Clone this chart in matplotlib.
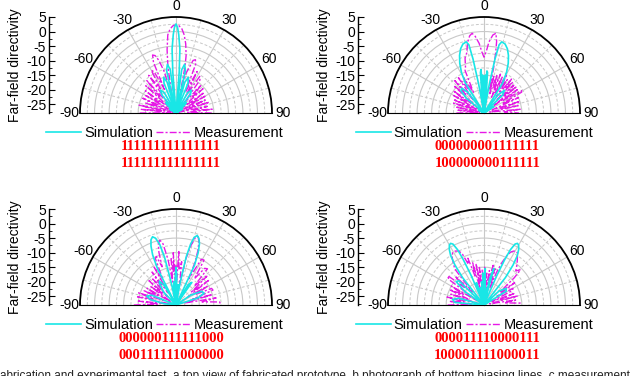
import numpy as np
import matplotlib.pyplot as plt
from matplotlib.ticker import MultipleLocator

plt.rcParams['font.family'] = ['Liberation Sans', 'DejaVu Sans']
plt.rcParams['axes.unicode_minus'] = False

W, H = 635, 376
RMIN, RMAX = -28, 5
CYAN = '#19e6e6'
MAGENTA = '#e619e6'

# ---- data (angle in degrees, directivity in dB) ----
sim1_deg = [-90, -65, -58, -52, -48, -44, -41, -38, -34, -30, -25, -22, -19, -16, -14.5, -12.5, -10, -7.5, -5.5, -4.5,
            -3.5, -2, -1, 0, 1, 2, 3.5, 4.5, 5.5, 7.5, 10, 12.5, 14.5, 16, 19, 22, 25, 30, 34, 38,
            41, 44, 48, 52, 58, 65, 90]
sim1_db = [-28, -28, -25.5, -28, -24, -23, -28, -20, -18.5, -20, -28, -17, -15, -17, -28, -13, -11, -13, -28, -14,
           -6, -1, 1.5, 2.6, 1.5, -1, -6, -14, -28, -13, -11, -13, -28, -17, -15, -17, -28, -20, -18.5, -20,
           -28, -23, -24, -28, -25.5, -28, -28]
meas1_deg = [-90, -87, -84, -81, -78, -75, -72, -69, -66, -63, -60, -57, -54, -51, -48, -45, -42, -39, -36, -33, -30,
             -28, -26, -24, -22, -20, -18, -16, -14, -12, -10, -8, -6, -4, -2, 0, 2, 4, 6, 8, 10,
             11, 12, 14, 16, 18, 20, 22, 24,
             27, 30, 33, 36, 39, 42, 45, 48, 51, 54, 57, 60, 63, 66, 69, 72, 75, 78, 81, 84, 87, 90]
meas1_db = [-15.5, -26, -16, -23, -15, -27, -17, -22, -15.5, -25, -16, -21, -15, -26, -14, -20, -13, -24, -12, -18, -11,
            -12, -19, -9, -6.5, -7, -9, -13, -22, -20, -12, -6, -1, 1, 2, 2.3, 2, 1, -1, -4, -8,
            -12, -20, -14, -12, -9, -8.5, -10, -20,
            -12, -21, -13, -14, -24, -15, -20, -15.5, -26, -16, -22, -16.5, -25, -17, -23, -16, -27, -17, -22, -15.5, -24, -15.5]

sim2_deg = [-90, -70, -62, -56, -50, -46, -42, -38, -34, -32, -29, -26, -23, -20, -17, -14, -12.5, -11.5, -10.5, -9.5,
            -7, -5, -4, -3, -2, -1, 0, 1, 2, 3, 4, 5, 7, 9.5, 10.5, 11.5, 12.5, 14, 17, 20,
            23, 26, 29, 32, 35, 38, 42, 46, 50, 56, 62, 90]
sim2_db = [-28, -28, -26, -28, -20, -17, -16.5, -19, -28, -16, -12, -9, -6.5, -4.5, -3.2, -2.8, -4, -9, -18, -28,
           -22, -14, -13, -20, -15, -26, -16, -26, -15, -20, -13.5, -14, -22, -28, -18, -9, -4, -2.8, -3.2, -4.5,
           -6.5, -9, -12, -16, -28, -20, -17.5, -19, -28, -24, -28, -28]
meas2_deg = [-90, -87, -84, -81, -78, -75, -72, -69, -66, -63, -60, -57, -54, -51, -48, -45, -42, -39, -36, -33, -30, -27, -24,
             -22, -19, -16, -13, -10.5, -8.5, -6.5, -4, -2, 0, 2, 4, 6.5, 8.5, 10, 11, 12, 13,
             15, 17, 19, 21, 23, 25, 27, 29, 31, 33, 35, 37, 39, 41, 43, 45, 47, 49, 51, 53, 55, 57, 59, 61, 63,
             66, 69, 72, 75, 78, 81, 84, 87, 90]
meas2_db = [-18.5, -26, -19, -24, -18, -27, -17, -23, -16.5, -25, -16, -21, -15, -26, -14, -19, -13, -22, -13, -18, -14, -20, -12,
            -11, -8, -6.5, -3, -1, -0.3, -1.5, -4, -7, -8.8, -7, -3.5, -1, -0.3, -3, -7, -12, -20,
            -15, -21, -14, -19, -13.5, -22, -14, -20, -13, -18, -14, -21, -13, -17, -13.5, -22, -14, -19, -13.5, -24, -14, -20, -13, -13.2, -21,
            -15, -25, -15, -22, -16, -26, -15.5, -21, -16]

sim3_deg = [-90, -84, -78, -73, -68, -62, -50, -44, -38, -35, -31, -29, -27, -25, -23, -21, -19, -17, -15, -13.5,
            -12, -11, -8, -5, -3, -1.5, 0, 1.5, 3, 5, 8, 10.5, 12, 13.5, 15, 17, 19, 21, 23, 25,
            27, 31, 35, 40, 50, 56, 62, 67, 72, 78, 90]
sim3_db = [-28, -24, -19, -17.5, -19, -28, -28, -22, -19, -18, -20, -28, -14, -9, -6, -4, -3.2, -4, -6.5, -11,
           -20, -28, -22, -20, -28, -18, -15, -18, -28, -21, -28, -20, -11, -6.5, -4, -3, -3.8, -5.5, -8.5, -13,
           -28, -20, -18.5, -28, -28, -22, -18, -17.5, -20, -28, -28]
meas3_deg = [-90, -87, -84, -81, -78, -75, -72, -69, -66, -63, -60, -57, -54, -51, -48, -45, -42, -39, -36, -33, -30, -27, -24,
             -22, -20, -18, -16, -14, -12, -10, -8, -6, -4, -3, -1.5, 0, 1.5, 3, 5, 7.5, 10, 12, 14, 16, 18, 20, 22, 24, 26,
             29, 32, 35, 38, 41, 44, 47, 50, 53, 56, 59, 62, 65, 68, 71, 74, 77, 80, 83, 86, 90]
meas3_db = [-13.5, -22, -15, -26, -14.5, -20, -14.5, -24, -16, -21, -16.5, -26, -17, -22, -15.5, -24, -16, -20, -14, -23, -13, -18, -10.5,
            -10, -14, -9, -6, -5, -6.5, -12, -20, -12, -17, -10, -22, -14, -20, -9.6, -16, -13, -21, -12, -7, -4, -3.3, -5, -8, -12, -18,
            -10, -9.8, -17, -12, -11.5, -19, -13.5, -21, -14, -23, -15.5, -20, -14.5, -14.3, -22, -15, -25, -14, -19, -13, -12.5]

sim4_deg = [-90, -85, -80, -75, -70, -62, -55, -50, -46, -42, -38, -36, -34, -32, -30, -28.5, -27, -25.5, -24.5, -23.5,
            -22, -19, -16, -12, -9, -6, -4, -2, -1, 1, 2, 3, 5, 8, 12, 15, 18, 22, 23.5, 24.5,
            25.5, 27, 28.5, 30, 32, 34, 36, 38, 41, 47, 53, 58, 64, 90]
sim4_db = [-28, -18, -17, -19, -28, -28, -20, -15.5, -16, -28, -16, -11, -7.5, -5.5, -4.2, -3.9, -4.5, -7, -11, -17,
           -28, -20, -28, -22, -28, -20, -28, -17, -19, -28, -15.5, -28, -22, -28, -19, -15, -28, -28, -17, -11,
           -7, -4.5, -3.9, -4.2, -5.5, -7.5, -11, -16, -28, -21, -18.5, -19, -28, -28]
meas4_deg = [-90, -87, -84, -81, -78, -75, -72, -69, -66, -63, -60, -57, -54, -51, -48, -45, -42, -39,
             -36, -34, -31, -28, -25, -23,
             -21, -19, -17, -15, -13, -11, -9, -7, -5, -3, -1, 1, 3, 5, 7, 9, 11, 13, 15, 17,
             19, 21, 23, 25, 27, 29, 31, 33, 35, 37,
             40, 43, 46, 48, 51, 54, 57, 60, 63, 66, 69, 72, 75, 78, 81, 84, 87, 90]
meas4_db = [-15.5, -24, -16, -21, -15, -26, -16, -22, -15, -20, -15, -25, -13, -12, -19, -14, -22, -12,
            -10, -8.5, -7, -7, -7.5, -9,
            -13, -11, -18, -13, -22, -13.5, -20, -15, -24, -16, -22, -15, -20, -17, -24, -16, -21, -14, -19, -15,
            -22, -16, -12, -9, -7.5, -6.8, -6.5, -6.8, -8, -9,
            -10.5, -12, -10.5, -14, -21, -15, -23, -16.5, -17, -25, -17, -22, -16, -26, -17, -21, -15.5, -16]

codes = [("111111111111111", "111111111111111"),
         ("000000001111111", "100000000111111"),
         ("000000111111000", "000111111000000"),
         ("000011110000111", "100001111000011")]

theta_ticks = [-90, -60, -30, 0, 30, 60, 90]
r_ticks = [-25, -20, -15, -10, -5, 0, 5]


def fig_box(x, y, w, h):
    # pixel box (top-left origin) -> figure fraction
    return [x / W, 1 - (y + h) / H, w / W, h / H]


fig = plt.figure(figsize=(W / 100, H / 100), dpi=100)


def draw_panel(cx, base, axis_x, sim_deg, sim_db, meas_deg, meas_db, code_pair, leg_cx, code_cx, leg_y):
    R = 96
    # square box; the half disc (2R x R) sits in its vertical middle
    ax = fig.add_axes(fig_box(cx - R, base - R / 2 - R, 2 * R, 2 * R), projection='polar')
    ax.set_anchor('C')
    ax.set_theta_zero_location('N')
    ax.set_theta_direction(-1)
    ax.set_thetamin(-90)
    ax.set_thetamax(90)
    ax.set_rlim(RMIN, RMAX)
    ax.set_thetagrids(theta_ticks, labels=[str(t) for t in theta_ticks], fontsize=10)
    ax.set_yticks([-25, -20, -15, -10, -5, 0])
    ax.set_yticklabels([])
    ax.tick_params(axis='y', length=0)
    ax.tick_params(axis='x', direction='in', length=4, width=1, pad=1)
    ax.grid(True, color='#c8c8c8', lw=0.8, ls='-')
    ax.spines['polar'].set_linewidth(1.3)
    ax.spines['start'].set_visible(False)
    ax.spines['end'].set_visible(False)

    # dashed minor grid
    tt = np.radians(np.linspace(-90, 90, 181))
    for r in [-22.5, -17.5, -12.5, -7.5, -2.5, 2.5]:
        ax.plot(tt, np.full_like(tt, r), color='#c8c8c8', lw=0.7, ls=(0, (3, 2)), zorder=1)
    for a in [-75, -45, -15, 15, 45, 75]:
        ax.plot([np.radians(a)] * 2, [RMIN, RMAX], color='#c8c8c8', lw=0.7, ls=(0, (3, 2)), zorder=1)

    lm, = ax.plot(np.radians(meas_deg), meas_db, color=MAGENTA, lw=1.0, ls=(0, (5, 1.5, 1.5, 1.5)), zorder=3)
    ls, = ax.plot(np.radians(sim_deg), sim_db, color=CYAN, lw=1.2, zorder=4)

    # radial scale drawn as a separate vertical axis on the left
    rax = fig.add_axes(fig_box(axis_x, base - R, 1, R))
    rax.set_facecolor('none')
    rax.set_ylim(RMIN, RMAX)
    rax.set_yticks(r_ticks)
    rax.set_yticklabels([str(t) for t in r_ticks], fontsize=10)
    rax.yaxis.set_minor_locator(MultipleLocator(2.5))
    rax.set_xticks([])
    for s in ['top', 'right', 'bottom']:
        rax.spines[s].set_visible(False)
    rax.spines['left'].set_linewidth(1.0)
    rax.tick_params(axis='y', which='major', direction='in', length=4, pad=2)
    rax.tick_params(axis='y', which='minor', direction='in', length=2)
    rax.set_ylabel('Far-field directivity', fontsize=10, labelpad=3)

    fig.legend([ls, lm], ['Simulation', 'Measurement'], loc='center',
               bbox_to_anchor=(leg_cx / W, 1 - leg_y / H), ncol=2, frameon=False,
               fontsize=10.5, handlelength=2.4, handletextpad=0.2, columnspacing=0.2,
               borderpad=0, borderaxespad=0)
    for k, code in enumerate(code_pair):
        fig.text(code_cx / W, 1 - (leg_y + 13 + 17.5 * k) / H, code, ha='center', va='center',
                 color='red', fontweight='bold', family='Liberation Serif', fontsize=10.5)


draw_panel(176, 113, 49, sim1_deg, sim1_db, meas1_deg, meas1_db, codes[0], 165, 170.5, 133)
draw_panel(484, 113, 358, sim2_deg, sim2_db, meas2_deg, meas2_db, codes[1], 474.5, 487.5, 133)
draw_panel(176, 305, 49, sim3_deg, sim3_db, meas3_deg, meas3_db, codes[2], 165, 171.5, 325)
draw_panel(484, 305, 358, sim4_deg, sim4_db, meas4_deg, meas4_db, codes[3], 474.5, 487.5, 325)

fig.text(0, 1 - 370 / H, 'abrication and experimental test. a top view of fabricated prototype. '
         'b photograph of bottom biasing lines. c measurement', ha='left', va='top',
         fontsize=8.5, color='#222222')

fig.savefig('out.png', dpi=100)
